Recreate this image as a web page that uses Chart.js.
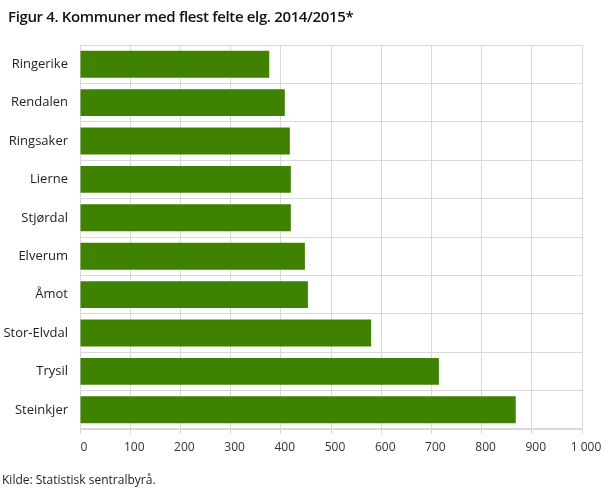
<!DOCTYPE html>
<html>
<head>
<meta charset="utf-8">
<script src="https://cdn.jsdelivr.net/npm/chart.js@4/dist/chart.umd.min.js"></script>
<style>
  body { margin: 0; background: #fff; font-family: 'Open Sans', sans-serif; }
  #wrap { position: relative; width: 609px; height: 489px; }
  #title { position: absolute; left: 8px; top: 5px; font-size: 15px; font-weight: 600; letter-spacing: -0.35px; line-height: 22px; color: #111; white-space: nowrap; }
  #source { position: absolute; left: 2px; top: 472px; font-size: 12px; line-height: 16px; color: #222; }
  canvas { position: absolute; left: 0; top: 0; }
</style>
</head>
<body>
<div id="wrap">
  <canvas id="chart" width="609" height="489"></canvas>
  <div id="title">Figur 4. Kommuner med flest felte elg. 2014/2015*</div>
  <div id="source">Kilde: Statistisk sentralbyrå.</div>
</div>
<script>
// Kommuner og antall felte elg
const kommuner = ['Ringerike', 'Rendalen', 'Ringsaker', 'Lierne', 'Stjørdal', 'Elverum', 'Åmot', 'Stor-Elvdal', 'Trysil', 'Steinkjer'];
const felteElg = [377, 408, 418, 420, 420, 448, 454, 580, 715, 868];
const xTicks = [0, 100, 200, 300, 400, 500, 600, 700, 800, 900, 1000];

const gridColor = '#d9d9d9';

const ctx = document.getElementById('chart').getContext('2d');
new Chart(ctx, {
  type: 'bar',
  data: {
    labels: kommuner,
    datasets: [{
      data: felteElg,
      backgroundColor: '#3f8200',
      categoryPercentage: 1,
      barPercentage: 0.7
    }]
  },
  options: {
    indexAxis: 'y',
    responsive: false,
    animation: false,
    layout: { padding: { top: 45, right: 27, left: 0, bottom: 0 } },
    plugins: { legend: { display: false }, tooltip: { enabled: false } },
    scales: {
      x: {
        min: 0,
        max: 1000,
        afterBuildTicks: axis => { axis.ticks = xTicks.map(v => ({ value: v })); },
        afterFit: axis => { axis.height = 60; },
        grid: { color: gridColor, tickLength: 5 },
        border: { color: gridColor },
        ticks: {
          padding: 6,
          labelOffset: 4,
          color: '#333',
          font: { family: 'Open Sans', size: 12 },
          callback: v => v >= 1000 ? String(v).replace(/\B(?=(\d{3})+(?!\d))/g, ' ') : v
        }
      },
      y: {
        afterFit: axis => { axis.width = 80; },
        grid: { color: gridColor, drawTicks: false },
        border: { display: false },
        ticks: {
          padding: 12,
          color: '#222',
          font: { family: 'Open Sans', size: 13 }
        }
      }
    }
  }
});
</script>
</body>
</html>
